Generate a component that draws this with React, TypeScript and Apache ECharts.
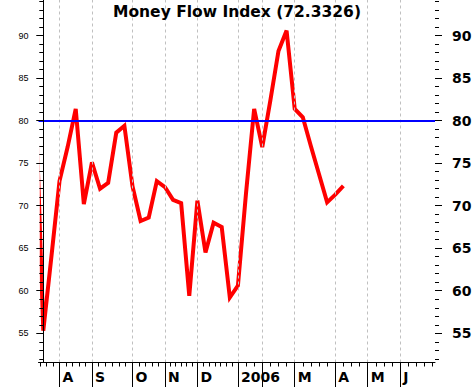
import { useEffect, useRef } from 'react';
import * as echarts from 'echarts';

const TITLE = 'Money Flow Index (72.3326)';
// Weekly MFI readings; the first one sits one week before the visible window (clipped).
const FIRST_WEEK = -1;
const mfiValues = [
  84.0, 55.3, 64.0, 72.9, 76.9, 81.4, 70.2, 75.1, 72.0, 72.7, 78.6, 79.4, 72.3,
  68.2, 68.6, 72.9, 72.2, 70.7, 70.3, 59.4, 70.6, 64.5, 68.0, 67.5, 59.2, 60.6,
  71.5, 81.4, 76.9, 82.4, 88.2, 90.6, 81.4, 80.4, 77.0, 73.7, 70.4, 71.3, 72.33,
];
// Week index of the first weekly bar of each month (Aug 2005 .. Jun 2006)
const monthStartWeeks = [2, 6, 11, 15, 19, 24, 27, 31, 36, 40, 44];
const monthLabels = ['A', 'S', 'O', 'N', 'D', '2006', '', 'M', 'A', 'M', 'J'];
const minorTicksPerMonth = [5, 6, 5, 6, 7, 3, 4, 5, 4, 4];
const leadMinorTicks = 3;
const trailMinorTicks = 4;
const overboughtLevel = 80;
const yLabelValues = [55, 60, 65, 70, 75, 80, 85, 90];
const yMinorValues = [
  52, 53, 54, 56, 57, 58, 59, 61, 62, 63, 64, 66, 67, 68, 69, 71, 72, 73, 74,
  76, 77, 78, 79, 81, 82, 83, 84, 86, 87, 88, 89, 91, 92, 93, 94,
];

const X_MIN = -0.59;
const X_MAX = 48.3;
const Y_MIN = 51.56;
const Y_MAX = 94.2;

function buildMinorX(): number[] {
  const out: number[] = [];
  const leadStep = (monthStartWeeks[1] - monthStartWeeks[0]) / minorTicksPerMonth[0];
  for (let k = 1; k <= leadMinorTicks; k++) out.push(monthStartWeeks[0] - k * leadStep);
  for (let m = 0; m < minorTicksPerMonth.length; m++) {
    const a = monthStartWeeks[m];
    const b = monthStartWeeks[m + 1];
    const n = minorTicksPerMonth[m];
    for (let k = 1; k < n; k++) out.push(a + ((b - a) * k) / n);
  }
  const last = monthStartWeeks[monthStartWeeks.length - 1];
  for (let k = 1; k <= trailMinorTicks; k++) out.push(last + k);
  return out;
}

export default function App() {
  const ref = useRef<HTMLDivElement>(null);
  useEffect(() => {
    if (!ref.current) return;
    const chart = echarts.init(ref.current, null, { renderer: 'svg' });
    const minorX = buildMinorX();
    const bold = { fontFamily: 'DejaVu Sans', fontWeight: 'bold' as const, color: '#000' };
    const lineData = mfiValues.map((v, i) => [i + FIRST_WEEK, v]);

    chart.setOption({
      animation: false,
      backgroundColor: '#ffffff',
      title: {
        text: TITLE,
        left: 'center',
        top: 4,
        padding: 0,
        textStyle: { ...bold, fontSize: 15.5 },
      },
      grid: { left: 38.5, right: 39, top: 0, bottom: 24.5, containLabel: false, outerBoundsMode: 'none' },
      // white mask left of the plot so the clipped lead-in segment does not bleed past the axis
      graphic: [
        {
          type: 'rect',
          z: 5,
          silent: true,
          shape: { x: 29.5, y: 0, width: 10.3, height: 363 },
          style: { fill: '#ffffff' },
        },
      ],
      xAxis: [
        {
          type: 'value',
          min: X_MIN,
          max: X_MAX,
          position: 'bottom',
          z: 10,
          axisLine: { show: true, lineStyle: { color: '#000', width: 1 } },
          axisTick: { show: true, customValues: monthStartWeeks, length: 25, lineStyle: { color: '#000' } },
          axisLabel: {
            show: true,
            customValues: monthStartWeeks,
            formatter: (val: number) => monthLabels[monthStartWeeks.indexOf(val)] ?? '',
            align: 'left',
            padding: [0, 0, 0, 3],
            margin: 7,
            fontSize: 14,
            ...bold,
          },
          splitLine: { show: false },
        },
        {
          type: 'value',
          min: X_MIN,
          max: X_MAX,
          position: 'bottom',
          z: 10,
          axisLine: { show: false },
          axisTick: { show: true, customValues: minorX, length: 4, lineStyle: { color: '#000' } },
          axisLabel: { show: false },
          splitLine: { show: false },
        },
      ],
      yAxis: [
        {
          type: 'value',
          min: Y_MIN,
          max: Y_MAX,
          position: 'left',
          z: 10,
          axisLine: { show: true, lineStyle: { color: '#000', width: 1 } },
          axisTick: { show: true, customValues: yLabelValues, length: 7, lineStyle: { color: '#000' } },
          axisLabel: {
            show: true,
            customValues: yLabelValues,
            fontSize: 9,
            fontFamily: 'Liberation Sans',
            color: '#000',
            margin: 10,
          },
          splitLine: { show: false },
        },
        {
          type: 'value',
          min: Y_MIN,
          max: Y_MAX,
          position: 'left',
          z: 10,
          axisLine: { show: false },
          axisTick: { show: true, customValues: yMinorValues, length: 4, lineStyle: { color: '#000' } },
          axisLabel: { show: false },
          splitLine: { show: false },
        },
        {
          type: 'value',
          min: Y_MIN,
          max: Y_MAX,
          position: 'right',
          axisLine: { show: false },
          axisTick: { show: true, customValues: yLabelValues, length: 7, lineStyle: { color: '#000' } },
          axisLabel: {
            show: true,
            customValues: yLabelValues,
            fontSize: 14,
            margin: 17,
            ...bold,
          },
          splitLine: { show: false },
        },
        {
          type: 'value',
          min: Y_MIN,
          max: Y_MAX,
          position: 'right',
          axisLine: { show: false },
          axisTick: { show: true, customValues: yMinorValues, length: 4, lineStyle: { color: '#000' } },
          axisLabel: { show: false },
          splitLine: { show: false },
        },
      ],
      series: [
        {
          name: 'guides',
          type: 'line',
          xAxisIndex: 0,
          yAxisIndex: 0,
          data: [],
          z: 1,
          silent: true,
          markLine: {
            silent: true,
            symbol: ['none', 'none'],
            label: { show: false },
            emphasis: { disabled: true },
            animation: false,
            data: [
              ...monthStartWeeks.map((w) => ({
                xAxis: w,
                lineStyle: { color: '#c0c0c0', width: 1, type: [3, 3] },
              })),
              { yAxis: overboughtLevel, lineStyle: { color: '#0000ff', width: 2, type: 'solid' } },
            ],
          },
        },
        {
          name: 'MFI',
          type: 'line',
          xAxisIndex: 0,
          yAxisIndex: 0,
          data: lineData,
          showSymbol: false,
          symbol: 'none',
          clip: true,
          z: 3,
          lineStyle: { color: '#ff0000', width: 4, join: 'miter' },
        },
      ],
    });
    return () => chart.dispose();
  }, []);
  return (
    <div
      ref={ref}
      style={{ position: 'absolute', left: 0, top: 0, width: 474, height: 387, background: '#fff' }}
    />
  );
}
